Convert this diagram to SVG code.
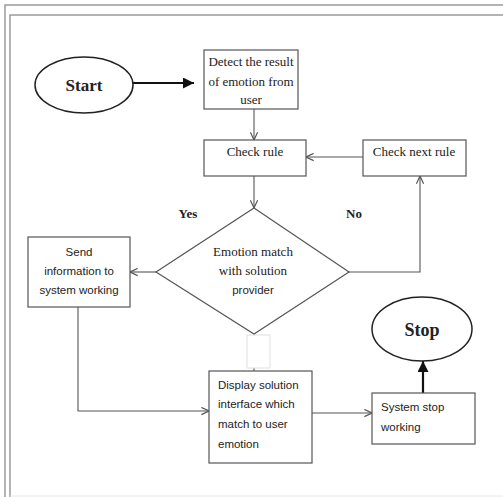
<svg xmlns="http://www.w3.org/2000/svg" width="503" height="497" viewBox="0 0 503 497">
<style>
.frame{fill:none;stroke:#9a9a9a;stroke-width:1.5}
.box{fill:#fff;stroke:#555;stroke-width:1.2}
.ell{fill:#fff;stroke:#222;stroke-width:1.5}
.ln{fill:none;stroke:#555;stroke-width:1.1}
.thick{fill:none;stroke:#111;stroke-width:2.2}
.serif{font-family:"Liberation Serif","Times New Roman",serif;font-size:13px;fill:#222}
.sans{font-family:"Liberation Sans",Arial,sans-serif;font-size:11.5px;fill:#222}
.bold{font-family:"Liberation Serif","Times New Roman",serif;font-weight:bold;fill:#222}
</style>
<defs>
<marker id="open" viewBox="0 0 10 10" refX="9.5" refY="5" markerWidth="9" markerHeight="9" markerUnits="userSpaceOnUse" orient="auto">
<path d="M1,1 L9.5,5 L1,9" fill="none" stroke="#555" stroke-width="1.3"/>
</marker>
<marker id="solid" viewBox="0 0 10 10" refX="10" refY="5" markerWidth="11" markerHeight="11" markerUnits="userSpaceOnUse" orient="auto">
<path d="M0,0 L10,5 L0,10 Z" fill="#111"/>
</marker>
</defs>
<rect width="503" height="497" fill="#fff"/>
<g id="frame">
<path class="frame" d="M503,5 H5 V497"/>
<path class="frame" d="M503,15 H10 V497"/>
<path d="M10,496 H503" stroke="#e6e6e6" stroke-width="1"/>
</g>
<g id="connectors">
<path class="thick" d="M133,83 H194" marker-end="url(#solid)"/>
<path class="ln" d="M254,109 V140" marker-end="url(#open)"/>
<path class="ln" d="M363,157 H306" marker-end="url(#open)"/>
<path class="ln" d="M254,176 V208" marker-end="url(#open)"/>
<path class="ln" d="M156,272 H130" marker-end="url(#open)"/>
<path class="ln" d="M349,272 H420 V176" marker-end="url(#open)"/>
<path class="ln" d="M78,307 V411 H209" marker-end="url(#open)"/>
<path class="ln" d="M254,334 V371"/>
<path class="ln" d="M312,413 H372" marker-end="url(#open)"/>
<path class="thick" d="M423,393 V361" marker-end="url(#solid)"/>
</g>
<g id="start">
<ellipse class="ell" cx="84" cy="85" rx="49" ry="28"/>
<text class="bold" x="84" y="91" font-size="17" text-anchor="middle">Start</text>
</g>
<g id="detect">
<rect class="box" x="204" y="50" width="94" height="59"/>
<text class="serif" text-anchor="middle"><tspan x="251" y="66">Detect the result</tspan><tspan x="251" y="86">of emotion from</tspan><tspan x="251" y="104">user</tspan></text>
</g>
<g id="check-rule">
<rect class="box" x="204" y="140" width="102" height="36"/>
<text class="serif" x="255" y="156" text-anchor="middle">Check rule</text>
</g>
<g id="check-next-rule">
<rect class="box" x="363" y="140" width="103" height="36"/>
<text class="serif" x="414" y="156" text-anchor="middle">Check next rule</text>
</g>
<g id="decision">
<path class="box" d="M254,208 L349,272 L254,334 L156,272 Z"/>
<text class="serif" text-anchor="middle"><tspan x="253" y="256">Emotion match</tspan><tspan x="253" y="275">with solution</tspan></text>
<text class="sans" x="253" y="294" text-anchor="middle">provider</text>
</g>
<g id="labels">
<text class="bold" x="188" y="218" font-size="13" text-anchor="middle">Yes</text>
<text class="bold" x="354" y="218" font-size="13" text-anchor="middle">No</text>
</g>
<g id="send">
<rect class="box" x="28" y="237" width="102" height="70"/>
<text class="sans" text-anchor="middle"><tspan x="79" y="256">Send</tspan><tspan x="79" y="275">information to</tspan><tspan x="79" y="294">system working</tspan></text>
</g>
<g id="blank">
<rect x="247" y="335" width="23" height="33" fill="#fff" stroke="#e0e0e0" stroke-width="1"/>
</g>
<g id="display">
<rect class="box" x="209" y="371" width="103" height="92"/>
<text class="sans"><tspan x="218" y="389">Display solution</tspan><tspan x="218" y="408">interface which</tspan><tspan x="218" y="428">match to user</tspan><tspan x="218" y="448">emotion</tspan></text>
</g>
<g id="system-stop">
<rect class="box" x="372" y="393" width="103" height="51"/>
<text class="sans"><tspan x="381" y="411">System stop</tspan><tspan x="381" y="431">working</tspan></text>
</g>
<g id="stop">
<ellipse class="ell" cx="422" cy="329" rx="50" ry="32"/>
<text class="bold" x="422" y="336" font-size="18" text-anchor="middle">Stop</text>
</g>
</svg>
